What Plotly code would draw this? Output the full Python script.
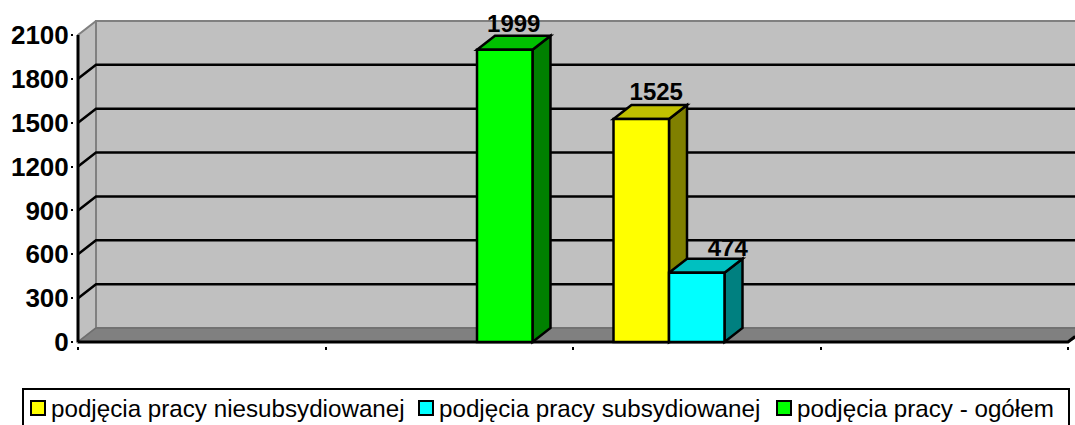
import plotly.graph_objects as go

# --- data ---
categories = ["", "", "", ""]
series_names = ["podjęcia pracy niesubsydiowanej", "podjęcia pracy subsydiowanej", "podjęcia pracy - ogółem"]
niesubsydiowane = [None, None, 1525, None]
subsydiowane = [None, None, 474, None]
ogolem = [None, 1999, None, None]
y_ticks = [0, 300, 600, 900, 1200, 1500, 1800, 2100]

# --- style ---
front_colors = ["#FFFF00", "#00FFFF", "#00FF00"]
top_colors = ["#C0C000", "#00C0C0", "#00C000"]
side_colors = ["#808000", "#008080", "#008000"]
label_nudge_px = [(6, 1), (22, 3), (0, 2)]   # (right, down) per series
FONT = "Liberation Sans, Arial, sans-serif"

# --- pixel frame of the chart (only used to set up axes) ---
W, H = 1075, 425
x_left, x_right = 78, 1068     # category axis ends
y_zero, y_top = 342, 35        # 0 and 2100
pad = 4
top_px = 20
px_per_cat = (x_right - x_left) / len(categories)
px_per_val = (y_zero - y_top) / 2100
dx = 18 / px_per_cat           # depth of the 3D box in axis units
dy = 14 / px_per_val
x_range = [-pad / px_per_cat, (W - x_left) / px_per_cat]
y_range = [-pad / px_per_val, (y_zero - top_px) / px_per_val]
x_end = x_range[1] + dx
n_cat = len(categories)

series = [niesubsydiowane, subsydiowane, ogolem]
x_pos = [i + 0.5 for i in range(n_cat)]
bar_w = 55.5 / px_per_cat
n_ser = len(series)


def poly(pts):
    return "M" + " L".join(f"{a},{b}" for a, b in pts) + " Z"


shapes = []


def add(path, fill=None, color="#808080", width=1.5):
    shapes.append(dict(type="path", path=path, xref="x", yref="y", layer="below",
                       fillcolor=fill if fill else "rgba(0,0,0,0)",
                       line=dict(color=color, width=width)))


# walls and floor
add(poly([(dx, dy), (x_end, dy), (x_end, 2100 + dy), (dx, 2100 + dy)]), "#C0C0C0", "#808080", 2)
add(poly([(0, 0), (dx, dy), (dx, 2100 + dy), (0, 2100)]), "#C0C0C0", "#808080", 2)
add(poly([(0, 0), (dx, dy), (x_end, dy), (n_cat, 0)]), "#808080", "#6E6E6E", 1.5)

# gridlines bent along side wall and back wall
for v in y_ticks[1:-1]:
    add(f"M0,{v} L{dx},{v + dy} L{x_end},{v + dy}", None, "#000000", 2.5)

# axis lines
add(f"M0,0 L0,{y_ticks[-1]}", None, "#000000", 3)
add(f"M0,0 L{n_cat},0 L{n_cat + dx * 0.4},{dy * 0.4}", None, "#000000", 3)

# 3D faces of every bar
fig = go.Figure()
label_x, label_y, label_t = [], [], []
for s, vals in enumerate(series):
    for c, v in enumerate(vals):
        if v is None:
            continue
        x0 = x_pos[c] + (s - n_ser / 2) * bar_w
        x1 = x0 + bar_w
        add(poly([(x1, 0), (x1 + dx, dy), (x1 + dx, v + dy), (x1, v)]), side_colors[s], "#000000", 2.5)
        add(poly([(x0, v), (x0 + dx, v + dy), (x1 + dx, v + dy), (x1, v)]), top_colors[s], "#000000", 2.5)
        label_x.append((x0 + x1 + dx) / 2 + label_nudge_px[s][0] / px_per_cat)
        label_y.append(v + dy - label_nudge_px[s][1] / px_per_val)
        label_t.append(str(v))

# front faces
for s, vals in enumerate(series):
    fig.add_trace(go.Bar(x=x_pos, y=vals, name=series_names[s], width=bar_w, offset=(s - n_ser / 2) * bar_w,
                         showlegend=False,
                         marker=dict(color=front_colors[s], line=dict(color="#000000", width=2.5)),
                         hoverinfo="y"))

# value labels
fig.add_trace(go.Scatter(x=label_x, y=label_y, text=label_t, mode="text", textposition="top center",
                         showlegend=False, cliponaxis=False, hoverinfo="skip",
                         textfont=dict(family=FONT, size=24, color="#000000", weight="bold")))

plot_w = W - (x_left - pad)
plot_h = (y_zero + pad) - top_px


def px(xp):
    return (xp - (x_left - pad)) / plot_w


def py(yp):
    return ((y_zero + pad) - yp) / plot_h


# legend: frame, swatches and labels
shapes.append(dict(type="rect", xref="paper", yref="paper",
                   x0=px(23), x1=px(1069), y0=py(432), y1=py(389),
                   line=dict(color="#000000", width=2), layer="below"))
swatch_px = [31, 419, 777]
text_px = [51, 439, 797]
annotations = []
for s in range(n_ser):
    shapes.append(dict(type="rect", xref="paper", yref="paper",
                       x0=px(swatch_px[s]), x1=px(swatch_px[s] + 14), y0=py(415), y1=py(401),
                       fillcolor=front_colors[s], line=dict(color="#000000", width=2), layer="below"))
    annotations.append(dict(xref="paper", yref="paper", x=px(text_px[s]), y=py(408), xanchor="left", yanchor="middle",
                            text=series_names[s], showarrow=False, xshift=-2,
                            font=dict(family=FONT, size=24.2, color="#000000")))

fig.update_layout(
    width=W, height=H, barmode="overlay", showlegend=False,
    margin=dict(l=x_left - pad, r=0, t=top_px, b=H - y_zero - pad, pad=0, autoexpand=False),
    paper_bgcolor="#FFFFFF", plot_bgcolor="#FFFFFF",
    shapes=shapes, annotations=annotations,
    xaxis=dict(range=x_range, tickvals=list(range(n_cat + 1)), showticklabels=False, ticks="outside",
               ticklen=3, tickwidth=2, tickcolor="#000000", showgrid=False, zeroline=False, showline=False),
    yaxis=dict(range=y_range, tickvals=y_ticks, ticks="outside", ticklen=2, tickwidth=2, tickcolor="#000000",
               showgrid=False, zeroline=False, showline=False, ticklabelstandoff=-3,
               tickfont=dict(family=FONT, size=26, color="#000000", weight="bold")),
)

fig.write_html("out.html", config={"displayModeBar": False}, post_script="document.body.style.margin='0';")
